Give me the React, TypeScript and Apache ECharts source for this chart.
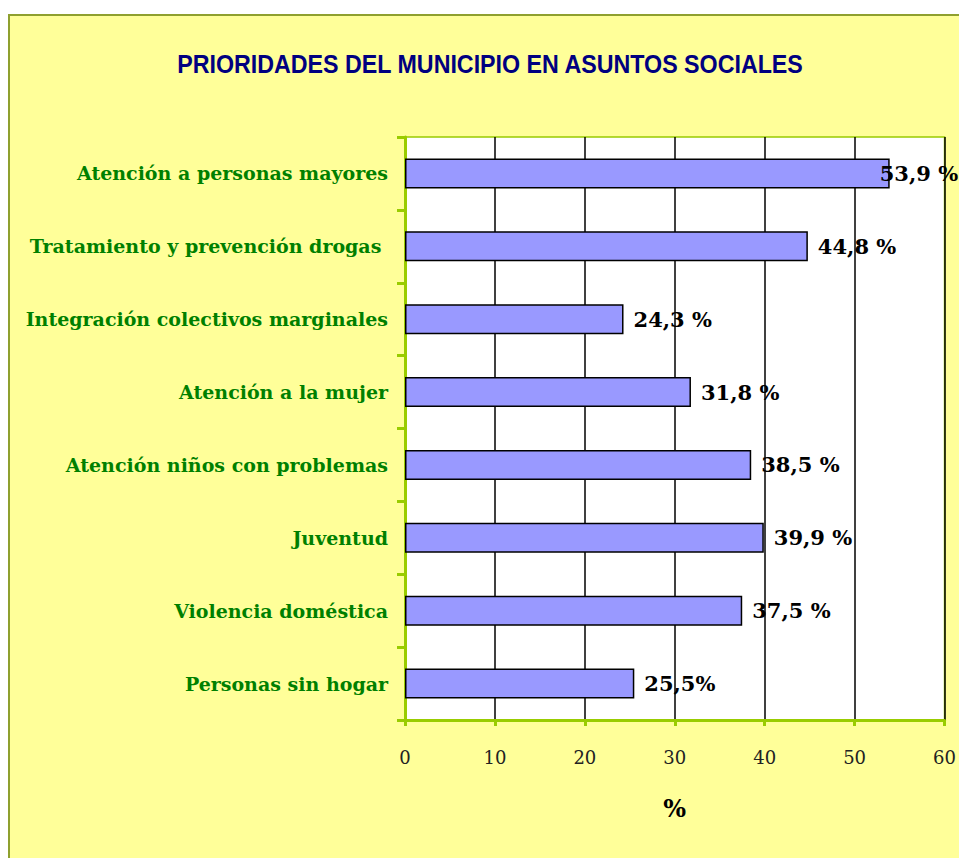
import React, { useEffect, useRef } from "react";
import * as echarts from "echarts";

const categories = [
  "Atención a personas mayores",
  "Tratamiento y prevención drogas ",
  "Integración colectivos marginales",
  "Atención a la mujer",
  "Atención niños con problemas",
  "Juventud",
  "Violencia doméstica",
  "Personas sin hogar",
];
const values = [53.9, 44.8, 24.3, 31.8, 38.5, 39.9, 37.5, 25.5];
const valueLabels = ["53,9 %", "44,8 %", "24,3 %", "31,8 %", "38,5 %", "39,9 %", "37,5 %", "25,5%"];
const xTicks = [0, 10, 20, 30, 40, 50, 60];
const title = "PRIORIDADES DEL MUNICIPIO EN ASUNTOS SOCIALES";

export default function App() {
  const ref = useRef<HTMLDivElement>(null);
  useEffect(() => {
    if (!ref.current) return;
    const chart = echarts.init(ref.current, null, { renderer: "svg" });
    const serif = "'DejaVu Serif', serif";
    chart.setOption({
      animation: false,
      backgroundColor: "#ffffff",
      graphic: [
        {
          type: "rect",
          z: -10,
          shape: { x: 9, y: 15, width: 1000, height: 900 },
          style: { fill: "#ffff99", stroke: "#8fa02f", lineWidth: 2 },
          silent: true,
        },
        {
          type: "text",
          x: 490,
          y: 64,
          scaleX: 0.93,
          style: {
            text: title,
            fill: "#000080",
            font: "bold 25px 'Liberation Sans', Arial, sans-serif",
            textAlign: "center",
            textVerticalAlign: "middle",
          },
        },
      ],
      grid: {
        left: 405,
        right: 12,
        top: 137,
        bottom: 138,
        show: true,
        backgroundColor: "#ffffff",
        borderColor: "#99cc00",
        borderWidth: 1.5,
      },
      xAxis: {
        type: "value",
        min: xTicks[0],
        max: xTicks[xTicks.length - 1],
        interval: 10,
        name: "%",
        nameLocation: "middle",
        nameGap: 76,
        nameTextStyle: { fontFamily: serif, fontWeight: "bold", fontSize: 24, color: "#000" },
        axisLine: { show: true, lineStyle: { color: "#99cc00", width: 3 } },
        axisTick: { show: true, length: 6, lineStyle: { color: "#99cc00", width: 3 } },
        splitLine: { show: true, lineStyle: { color: "#000", width: 1.5 } },
        axisLabel: { fontFamily: serif, fontSize: 18, color: "#222", margin: 28 },
      },
      yAxis: {
        type: "category",
        data: categories,
        inverse: true,
        axisLine: { show: true, lineStyle: { color: "#99cc00", width: 3 } },
        axisTick: { show: true, length: 8, lineStyle: { color: "#99cc00", width: 3 } },
        axisLabel: {
          fontFamily: serif,
          fontWeight: "bold",
          fontSize: 19,
          color: "#008000",
          margin: 17,
        },
      },
      series: [
        {
          type: "bar",
          data: values.map((v, i) =>
            i === 0 ? { value: v, label: { offset: [-20, 0] } } : { value: v }
          ),
          barCategoryGap: "59%",
          itemStyle: { color: "#9999ff", borderColor: "#000", borderWidth: 1.5 },
          label: {
            show: true,
            position: "right",
            distance: 10,
            fontFamily: serif,
            fontWeight: "bold",
            fontSize: 21,
            color: "#000",
            formatter: (p: any) => valueLabels[p.dataIndex],
          },
        },
      ],
    });
    return () => chart.dispose();
  }, []);
  return (
    <div
      ref={ref}
      style={{ position: "fixed", left: 0, top: 0, width: 959, height: 858 }}
    />
  );
}
